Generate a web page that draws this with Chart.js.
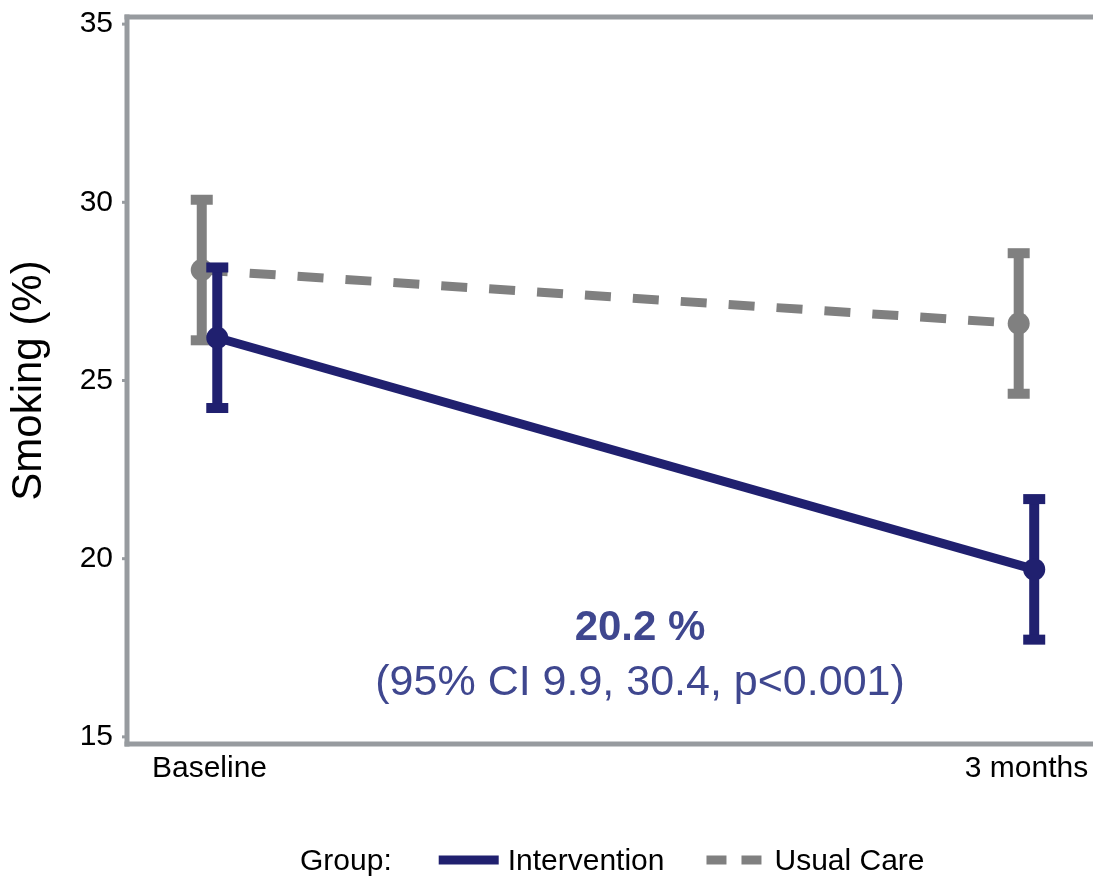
<!DOCTYPE html>
<html><head><meta charset="utf-8">
<script src="https://cdn.jsdelivr.net/npm/chart.js@4.4.1/dist/chart.umd.min.js"></script>
<style>html,body{margin:0;padding:0;background:#fff;}#wrap{width:1093px;height:880px;}</style>
</head><body><div id="wrap"><canvas id="c" width="1093" height="880"></canvas></div>
<script>
// ---- data ----
const categories = ['Baseline', '3 months'];
const yTicks = [15, 20, 25, 30, 35];
const seriesNames = ['Intervention', 'Usual Care'];
const interventionMean = [26.2, 19.7];
const interventionLower = [24.2, 17.7];
const interventionUpper = [28.2, 21.7];
const usualMean = [28.1, 26.6];
const usualLower = [26.1, 24.6];
const usualUpper = [30.1, 28.6];
const legendTitle = 'Group:';
const effectLabel = '20.2 %';
const effectDetail = '(95% CI 9.9, 30.4, p<0.001)';
const yTitle = 'Smoking (%)';

// ---- styles ----
const FONT = '"Liberation Sans", Arial, Helvetica, sans-serif';
const NAVY = '#20206F';
const GREY = '#808080';
const FRAME = '#979B9F';
const ANNOT = '#3F478F';
const DODGE = 0.0095;

function pts(means, off) { return means.map((v, i) => ({x: i + off, y: v})); }

const errorBars = {
  id: 'errorBars',
  beforeDatasetDraw(chart, args) {
    const ds = chart.data.datasets[args.index];
    const meta = chart.getDatasetMeta(args.index);
    const ys = chart.scales.y;
    const ctx = chart.ctx;
    ctx.save();
    ctx.fillStyle = ds.borderColor;
    meta.data.forEach((el, i) => {
      const x = el.x;
      const yl = ys.getPixelForValue(ds.errLow[i]);
      const yh = ys.getPixelForValue(ds.errHigh[i]);
      ctx.fillRect(x - 5, yh, 10, yl - yh);
      ctx.fillRect(x - 11, yh - 4, 22, 10);
      ctx.fillRect(x - 11, yl - 6, 22, 10);
    });
    ctx.restore();
  }
};

const frame = {
  id: 'frame',
  beforeDatasetsDraw(chart) {
    const {ctx, chartArea: a} = chart;
    const ys = chart.scales.y;
    ctx.save();
    ctx.fillStyle = FRAME;
    ctx.fillRect(a.left - 2.5, a.top - 2.5, 5, a.bottom - a.top + 5);
    ctx.fillRect(a.left - 2.5, a.top - 2.5, chart.width - a.left + 3, 5);
    ctx.fillRect(a.left - 2.5, a.bottom - 2.5, chart.width - a.left + 3, 5);
    yTicks.forEach(t => {
      const y = ys.getPixelForValue(t);
      ctx.fillRect(a.left - 5, y - 1.5, 3, 3);
    });
    ctx.restore();
  }
};

const annotations = {
  id: 'annotations',
  afterDatasetsDraw(chart) {
    const {ctx} = chart;
    const xs = chart.scales.x, ys = chart.scales.y;
    ctx.save();
    ctx.fillStyle = ANNOT;
    ctx.textAlign = 'center';
    ctx.textBaseline = 'middle';
    const cx = xs.getPixelForValue(0.527);
    ctx.font = 'bold 42px ' + FONT;
    ctx.fillText(effectLabel, cx, ys.getPixelForValue(18.03));
    ctx.font = '43px ' + FONT;
    ctx.fillText(effectDetail, cx, ys.getPixelForValue(16.51));
    ctx.restore();
  }
};

const groupLegend = {
  id: 'groupLegend',
  afterDraw(chart) {
    const {ctx} = chart;
    const y = 862;
    ctx.save();
    ctx.font = '30px ' + FONT;
    ctx.fillStyle = '#000';
    ctx.textBaseline = 'middle';
    ctx.textAlign = 'left';
    let x = 300;
    ctx.fillText(legendTitle, x, y);
    x += ctx.measureText(legendTitle).width + 47;
    const ds = chart.data.datasets;
    ds.forEach((d, i) => {
      ctx.save();
      ctx.strokeStyle = d.borderColor;
      ctx.lineWidth = 9;
      ctx.setLineDash(i === 0 ? [] : [20, 15]);
      ctx.beginPath();
      ctx.moveTo(x, y - 2);
      ctx.lineTo(x + (i === 0 ? 60 : 55), y - 2);
      ctx.stroke();
      ctx.restore();
      x += (i === 0 ? 60 + 9 : 55 + 13);
      ctx.fillText(d.label, x, y);
      x += ctx.measureText(d.label).width + 42;
    });
    ctx.restore();
  }
};

function zeroPad(s) { s.paddingTop = 0; s.paddingBottom = 0; s.paddingLeft = 0; s.paddingRight = 0; }

new Chart(document.getElementById('c'), {
  type: 'line',
  data: {
    datasets: [
      {
        label: seriesNames[0],
        data: pts(interventionMean, DODGE),
        errLow: interventionLower, errHigh: interventionUpper,
        borderColor: NAVY, backgroundColor: NAVY,
        borderWidth: 9, pointRadius: 11, pointBorderWidth: 0,
        pointBackgroundColor: NAVY, borderCapStyle: 'butt', tension: 0
      },
      {
        label: seriesNames[1],
        data: pts(usualMean, -DODGE),
        errLow: usualLower, errHigh: usualUpper,
        borderColor: GREY, backgroundColor: GREY,
        borderWidth: 9, borderDash: [26, 22], pointRadius: 11, pointBorderWidth: 0,
        pointBackgroundColor: GREY, borderCapStyle: 'butt', tension: 0
      }
    ]
  },
  options: {
    responsive: false,
    animation: false,
    devicePixelRatio: 1,
    layout: {padding: {top: 17, right: 0, left: 0, bottom: 0}},
    plugins: {legend: {display: false}, tooltip: {enabled: false}},
    scales: {
      x: {
        type: 'linear', min: -0.101, max: 1.068,
        grid: {display: false, drawTicks: false}, border: {display: false},
        afterBuildTicks: s => { s.ticks = categories.map((c, i) => ({value: i})); },
        afterFit: s => { s.height = 136; zeroPad(s); },
        ticks: {
          autoSkip: false, maxRotation: 0, padding: 7, color: '#000',
          font: {family: FONT, size: 30},
          callback: v => categories[v] ?? ''
        }
      },
      y: {
        type: 'linear', min: 14.8, max: 35.2,
        grid: {display: false, drawTicks: false}, border: {display: false},
        afterBuildTicks: s => { s.ticks = yTicks.map(v => ({value: v})); },
        afterFit: s => { s.width = 127; zeroPad(s); },
        ticks: {padding: 14, color: '#000', font: {family: FONT, size: 30}},
        title: {display: true, text: yTitle, color: '#000', font: {family: FONT, size: 42}, padding: {top: 4, bottom: 0}}
      }
    }
  },
  plugins: [frame, errorBars, annotations, groupLegend]
});
</script></body></html>
